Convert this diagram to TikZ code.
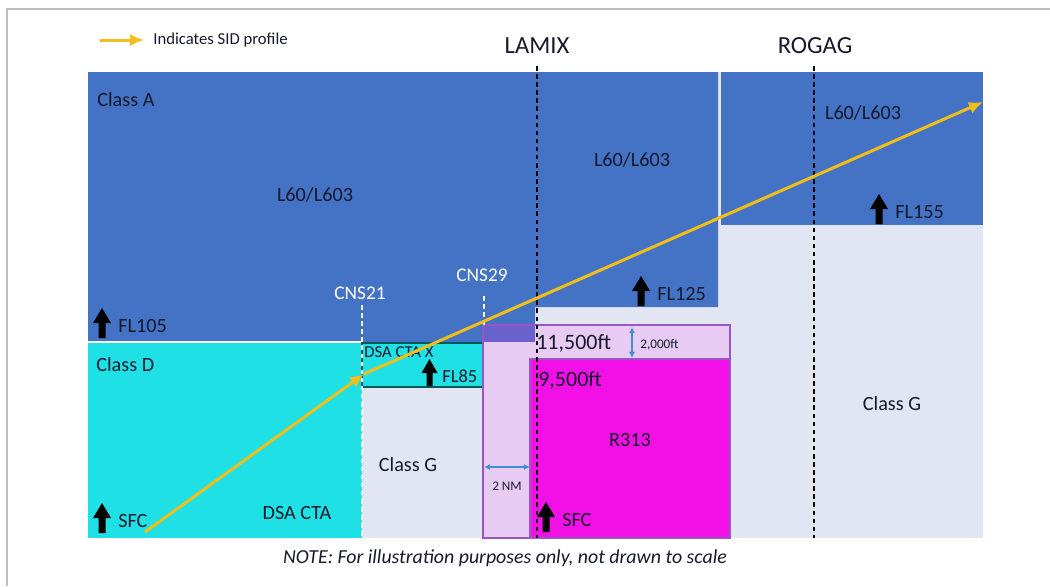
\documentclass[tikz,border=0pt]{standalone}
\usepackage{fontspec}
\setmainfont{Carlito}
\usetikzlibrary{arrows.meta}
\definecolor{clsA}{HTML}{4472C4}
\definecolor{clsD}{HTML}{1FE0E5}
\definecolor{clsG}{HTML}{E2E6F2}
\definecolor{rlilac}{HTML}{E8CBF2}
\definecolor{rmag}{HTML}{F210E6}
\definecolor{rpurp}{HTML}{9A55C4}
\definecolor{rover}{HTML}{6A62CC}
\definecolor{sid}{HTML}{F2BE1A}
\definecolor{dimblue}{HTML}{3F8FD2}
\definecolor{ink}{HTML}{161A2C}
\tikzset{
  lbl/.style={inner sep=0pt, text=ink, font=\fontsize{11.5}{13}\selectfont},
  fix/.style={inner sep=0pt, text=white, font=\fontsize{11}{13}\selectfont},
  wpt/.style={inner sep=0pt, text=ink, font=\fontsize{14}{16}\selectfont},
  dimtxt/.style={inner sep=0pt, text=ink, font=\fontsize{7.5}{9}\selectfont},
  wptline/.style={black, line width=0.8pt, dash pattern=on 2.6pt off 2pt},
  fixline/.style={white, line width=0.8pt, dash pattern=on 2.6pt off 2pt},
  sidline/.style={sid, line width=1.7pt, -{Latex[length=8pt,width=7pt]}},
  dimline/.style={dimblue, line width=0.7pt, {Latex[length=3.5pt,width=3.5pt]}-{Latex[length=3.5pt,width=3.5pt]}}
}
\begin{document}
\begin{tikzpicture}[x=0.02cm, y=-0.02cm, >=latex]
  \useasboundingbox (0,0) rectangle (1050,586);
  \draw[black!25, line width=0.8pt] (7,586) |- (1050,9);
  % airspace blocks
  \fill[clsG] (88,72) rectangle (983,538);
  \fill[clsA] (88,72) -- (718,72) -- (718,307) -- (535,307) -- (535,342) -- (88,342) -- cycle;
  \fill[clsA] (721,72) rectangle (983,225);
  \fill[clsD] (88,343) rectangle (362,538);
  \draw[white, line width=0.8pt] (88,342) -- (362,342);
  \filldraw[fill=clsD, draw=teal!70!black, line width=0.6pt] (362,343) rectangle (483,387);
  \fill[rlilac] (483,325) rectangle (730,538);
  \fill[rover] (483,325) rectangle (535,342);
  \fill[rmag] (530,359) rectangle (730,538);
  \draw[rpurp, line width=0.9pt] (483,325) rectangle (730,538);
  \draw[rpurp, line width=0.9pt] (530,538) |- (730,359);
  % fixes and waypoints
  \draw[fixline] (362,305) -- (362,538);
  \draw[fixline] (484,296) -- (484,325);
  \draw[wptline] (537,66) -- (537,538);
  \draw[wptline] (814,66) -- (814,538);
  \node[fix] (cns21) at (360,293) {CNS21};
  \node[fix] (cns29) at (482,275) {CNS29};
  \node[wpt] (lamix) at (537,46) {LAMIX};
  \node[wpt] (rogag) at (815,46) {ROGAG};
  % labels
  \node[lbl, anchor=west] (clsa) at (97,100) {Class A};
  \node[lbl] (l60a) at (315,195) {L60/L603};
  \node[lbl] (l60b) at (632,160) {L60/L603};
  \node[lbl] (l60c) at (863,113) {L60/L603};
  \node[lbl, anchor=west] (clsd) at (96,365) {Class D};
  \node[lbl] (dsacta) at (297,513) {DSA CTA};
  \node[lbl, anchor=west, font=\fontsize{9.5}{11}\selectfont] (dsactax) at (364,352) {DSA CTA X};
  \node[lbl] (clsg1) at (408,465) {Class G};
  \node[lbl] (clsg2) at (892,404) {Class G};
  \node[lbl] (r313) at (630,440) {R313};
  \node[lbl, anchor=west, font=\fontsize{12.5}{14}\selectfont] (ft115) at (536,343) {11,500ft};
  \node[lbl, anchor=west, font=\fontsize{12.5}{14}\selectfont] (ft95) at (538,380) {9,500ft};
  % dimensions
  \coordinate (dimTop) at (632,327);
  \coordinate (dimBot) at (632,358);
  \draw[dimline] (dimTop) -- (dimBot);
  \node[dimtxt, anchor=west] (ft2000) at (640,345) {2,000ft};
  \coordinate (nmL) at (484,467);
  \coordinate (nmR) at (530,467);
  \draw[dimline] (nmL) -- (nmR);
  \node[dimtxt] (nm2) at (507,486) {2 NM};
  % level arrows
  \foreach \ax/\ay/\lv in {102/338/FL105, 102/533/SFC, 641/306/FL125, 879/224/FL155, 546/532/SFC}
    {
      \fill[black] (\ax-3.5,\ay) -- (\ax-3.5,\ay-15) -- (\ax-9,\ay-15) -- (\ax,\ay-30)
        -- (\ax+9,\ay-15) -- (\ax+3.5,\ay-15) -- (\ax+3.5,\ay) -- cycle;
      \node[lbl, anchor=west] (lv\ax) at (\ax+16,\ay-12) {\lv};
    }
  \fill[black] (426.5,386) -- (426.5,373) -- (421.5,373) -- (429.5,359) -- (437.5,373)
    -- (432.5,373) -- (432.5,386) -- cycle;
  \node[lbl, anchor=west, font=\fontsize{10.5}{12}\selectfont] (lvfl85) at (442,376) {FL85};
  % SID profile
  \coordinate (sidA) at (145,532);
  \coordinate (sidB) at (364,374);
  \coordinate (sidC) at (983,102);
  \draw[sidline] (sidA) -- (sidB);
  \draw[sidline] (sidB) -- (sidC);
  \coordinate (lgA) at (100,40);
  \coordinate (lgB) at (144,40);
  \draw[sidline] (lgA) -- (lgB);
  \node[lbl, anchor=west, font=\fontsize{9.5}{11}\selectfont] (lgtxt) at (153,40) {Indicates SID profile};
  \node[lbl, font=\fontsize{11.3}{13}\itshape] (note) at (505,558) {NOTE: For illustration purposes only, not drawn to scale};
\end{tikzpicture}
\end{document}
